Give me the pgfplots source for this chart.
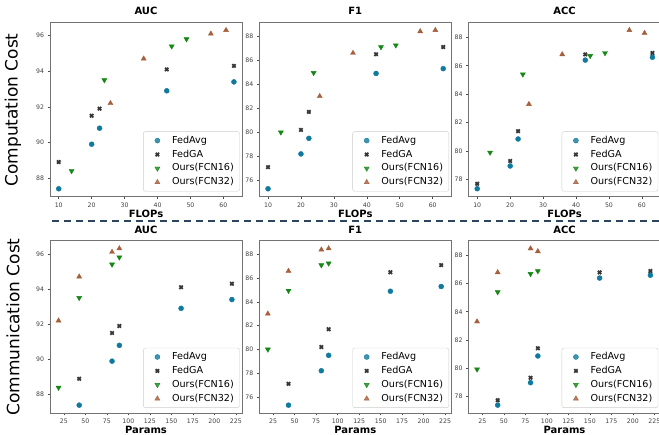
\documentclass[border=0pt]{standalone}
\usepackage{pgfplots}
\pgfplotsset{compat=1.18}
\usepackage{fontspec}
\setmainfont{DejaVu Sans}

\definecolor{cavg}{RGB}{16,122,158}
\definecolor{cga}{RGB}{55,55,55}
\definecolor{c16}{RGB}{20,135,20}
\definecolor{c32}{RGB}{165,95,60}
\definecolor{dline}{RGB}{45,70,95}

\pgfplotsset{
  panel/.style={
    scale only axis, width=192pt, anchor=south west,
    axis line style={black!55, line width=0.8pt},
    tick align=outside, xtick pos=bottom, ytick pos=left,
    major tick length=2.5pt, tick style={black!70, line width=0.6pt},
    ticklabel style={font=\fontsize{6.2}{7}\selectfont, text=black!75},
    /pgf/number format/assume math mode=true,
    title style={font=\bfseries\fontsize{10}{10}\selectfont, yshift=-2pt},
    xlabel style={font=\bfseries\fontsize{10}{10}\selectfont, yshift=4pt},
    legend style={at={(0.988,0.03)}, anchor=south east, draw=black!20,
      rounded corners=2pt, font=\fontsize{9.6}{10}\selectfont,
      fill=white, fill opacity=0.8, text opacity=1,
      row sep=0pt, inner xsep=2.5pt, inner ysep=2pt,
      nodes={inner xsep=3.2pt, inner ysep=2.3pt, text height=7.2pt, text depth=2.1pt}},
    legend cell align=left,
  },
  toprow/.style={panel, height=174.4pt, xmin=7.35, xmax=65.65,
    xtick={10,20,...,60}, xlabel={FLOPs}},
  botrow/.style={panel, height=172.3pt, xmin=8.85, xmax=232.15,
    xtick={25,50,...,225}, xlabel={Params}},
  limg/.style={legend image code/.code={
      \path[draw=none, fill=none] (0pt,0pt) -- (23pt,0pt);
      \draw[##1, only marks] plot coordinates {(11.5pt,0pt)};}},
  pavg/.style={only marks, mark=*, mark size=2.5pt, color=cavg, limg},
  pga/.style={only marks, mark=x, mark size=2.4pt, color=cga, mark options={line width=1.8pt}, limg},
  p16/.style={only marks, mark=triangle*, mark size=2.9pt, color=c16, mark options={rotate=180}, limg},
  p32/.style={only marks, mark=triangle*, mark size=2.9pt, color=c32, limg},
}

\begin{document}
\begin{tikzpicture}[x=1pt,y=1pt]

% ---------------- top row: FLOPs ----------------
\begin{axis}[toprow, at={(50pt,238.3pt)}, title={AUC},
  ymin=86.955, ymax=96.745, ytick={88,90,...,96}]
\addplot[pavg] coordinates {(10,87.4)(20,89.9)(22.4,90.8)(42.8,92.9)(63.2,93.4)};
\addplot[pga] coordinates {(10,88.9)(20,91.5)(22.4,91.9)(42.8,94.1)(63.2,94.3)};
\addplot[p16] coordinates {(13.9,88.4)(23.85,93.5)(44.3,95.4)(48.8,95.8)};
\addplot[p32] coordinates {(25.7,92.2)(35.8,94.7)(56.2,96.1)(60.8,96.3)};
\legend{FedAvg,FedGA,Ours(FCN16),Ours(FCN32)}
\end{axis}

\begin{axis}[toprow, at={(259.3pt,238.3pt)}, title={F1},
  ymin=74.64, ymax=89.16, ytick={76,78,...,88}]
\addplot[pavg] coordinates {(10,75.3)(20,78.2)(22.4,79.5)(42.8,84.9)(63.2,85.3)};
\addplot[pga] coordinates {(10,77.1)(20,80.2)(22.4,81.7)(42.8,86.5)(63.2,87.1)};
\addplot[p16] coordinates {(13.9,80.0)(23.85,84.95)(44.3,87.1)(48.8,87.25)};
\addplot[p32] coordinates {(25.7,83.0)(35.8,86.6)(56.2,88.4)(60.8,88.5)};
\legend{FedAvg,FedGA,Ours(FCN16),Ours(FCN32)}
\end{axis}

\begin{axis}[toprow, at={(468.5pt,238.3pt)}, title={ACC},
  ymin=76.79, ymax=89.06, ytick={78,80,...,88}]
\addplot[pavg] coordinates {(10,77.35)(20,78.95)(22.4,80.85)(42.8,86.4)(63.2,86.6)};
\addplot[pga] coordinates {(10,77.7)(20,79.3)(22.4,81.4)(42.8,86.8)(63.2,86.9)};
\addplot[p16] coordinates {(13.9,79.9)(23.85,85.4)(44.3,86.7)(48.8,86.9)};
\addplot[p32] coordinates {(25.7,83.3)(35.8,86.8)(56.2,88.5)(60.8,88.3)};
\legend{FedAvg,FedGA,Ours(FCN16),Ours(FCN32)}
\end{axis}

% ---------------- bottom row: Params ----------------
\begin{axis}[botrow, at={(50pt,22pt)}, title={AUC},
  ymin=86.955, ymax=96.745, ytick={88,90,...,96}]
\addplot[pavg] coordinates {(42.8,87.4)(81,89.9)(89.5,90.8)(161.3,92.9)(220.4,93.4)};
\addplot[pga] coordinates {(42.8,88.9)(81,91.5)(89.5,91.9)(161.3,94.1)(220.4,94.3)};
\addplot[p16] coordinates {(18.8,88.4)(42.8,93.5)(81,95.4)(89.5,95.8)};
\addplot[p32] coordinates {(18.8,92.2)(42.8,94.7)(81,96.1)(89.5,96.3)};
\legend{FedAvg,FedGA,Ours(FCN16),Ours(FCN32)}
\end{axis}

\begin{axis}[botrow, at={(259.3pt,22pt)}, title={F1},
  ymin=74.64, ymax=89.16, ytick={76,78,...,88}]
\addplot[pavg] coordinates {(42.8,75.3)(81,78.2)(89.5,79.5)(161.3,84.9)(220.4,85.3)};
\addplot[pga] coordinates {(42.8,77.1)(81,80.2)(89.5,81.7)(161.3,86.5)(220.4,87.1)};
\addplot[p16] coordinates {(18.8,80.0)(42.8,84.95)(81,87.1)(89.5,87.25)};
\addplot[p32] coordinates {(18.8,83.0)(42.8,86.6)(81,88.4)(89.5,88.5)};
\legend{FedAvg,FedGA,Ours(FCN16),Ours(FCN32)}
\end{axis}

\begin{axis}[botrow, at={(468.5pt,22pt)}, title={ACC},
  ymin=76.79, ymax=89.06, ytick={78,80,...,88}]
\addplot[pavg] coordinates {(42.8,77.35)(81,78.95)(89.5,80.85)(161.3,86.4)(220.4,86.6)};
\addplot[pga] coordinates {(42.8,77.7)(81,79.3)(89.5,81.4)(161.3,86.8)(220.4,86.9)};
\addplot[p16] coordinates {(18.8,79.9)(42.8,85.4)(81,86.7)(89.5,86.9)};
\addplot[p32] coordinates {(18.8,83.3)(42.8,86.8)(81,88.5)(89.5,88.3)};
\legend{FedAvg,FedGA,Ours(FCN16),Ours(FCN32)}
\end{axis}

% row labels and separator
\node[rotate=90, font=\fontsize{17}{18}\selectfont] at (13,325) {Computation Cost};
\node[rotate=90, font=\fontsize{17}{18}\selectfont] at (13,108) {Communication Cost};
\draw[dline, line width=1.8pt, dash pattern=on 7pt off 5pt] (52,214) -- (659,214);

\pgfresetboundingbox
\useasboundingbox (0,0) rectangle (659,435);
\end{tikzpicture}
\end{document}
